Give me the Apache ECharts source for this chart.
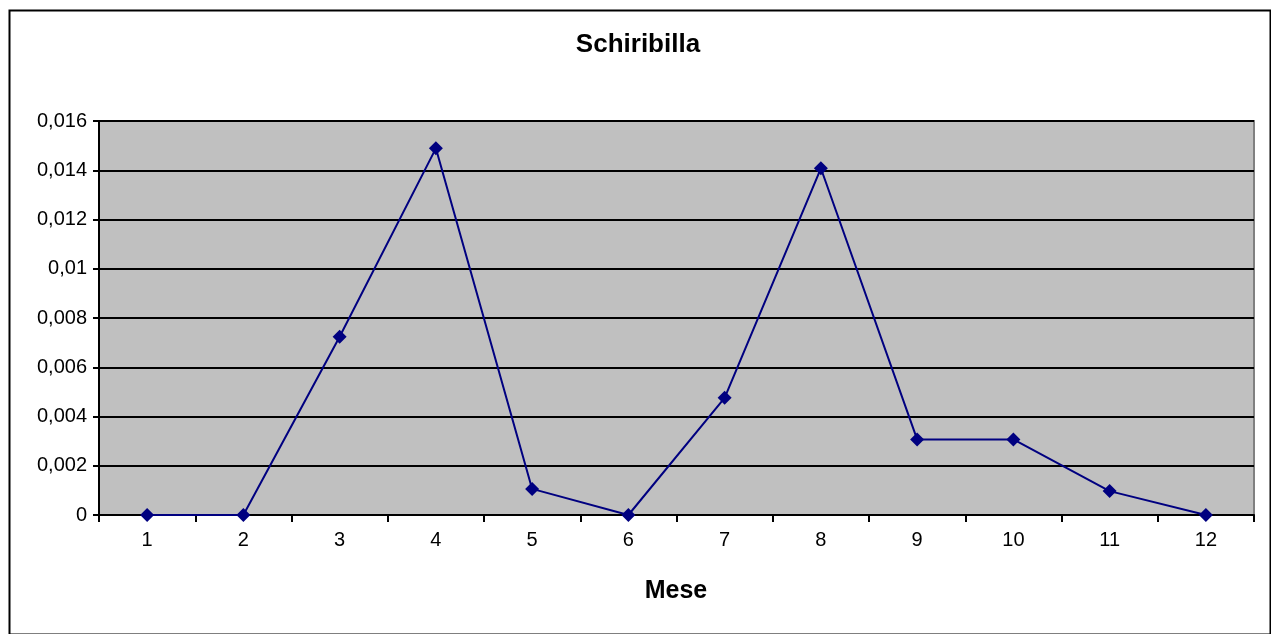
<!DOCTYPE html>
<html>
<head>
<meta charset="utf-8">
<script src="https://cdn.jsdelivr.net/npm/echarts@6/dist/echarts.min.js"></script>
<style>html,body{margin:0;padding:0;background:#fff;}#c{width:1271px;height:634px;}</style>
</head>
<body>
<div id="c"></div>
<script>
const months = ['1','2','3','4','5','6','7','8','9','10','11','12'];
const values = [0, 0, 0.00724, 0.01489, 0.00106, 0, 0.00476, 0.01408, 0.00307, 0.00307, 0.00097, 0];
const chartTitle = 'Schiribilla';
const xName = 'Mese';

const chart = echarts.init(document.getElementById('c'));
chart.setOption({
  animation: false,
  backgroundColor: '#fff',
  graphic: [{
    type: 'rect', left: 7, top: 8, z: 100,
    shape: { width: 1261, height: 624 },
    style: { fill: 'none', stroke: '#000', lineWidth: 2 }
  }, {
    type: 'text', z: 100,
    style: { text: chartTitle, x: 638, y: 45, textAlign: 'center', textVerticalAlign: 'middle',
      fontFamily: 'Liberation Sans, Arial', fontSize: 26, fontWeight: 'bold', fill: '#000' }
  }, {
    type: 'text', z: 100,
    style: { text: xName, x: 676, y: 591, textAlign: 'center', textVerticalAlign: 'middle',
      fontFamily: 'Liberation Sans, Arial', fontSize: 25, fontWeight: 'bold', fill: '#000' }
  }],
  grid: {
    left: 99, right: 17, top: 121, bottom: 119,
    show: true, backgroundColor: '#C0C0C0', borderColor: '#808080', borderWidth: 2
  },
  xAxis: {
    type: 'category', data: months, boundaryGap: true,
    axisLine: { lineStyle: { color: '#000', width: 2 } },
    axisTick: { show: true, length: 7, inside: false, lineStyle: { color: '#000', width: 2 } },
    axisLabel: { color: '#000', fontFamily: 'Liberation Sans, Arial', fontSize: 20, margin: 15 },
    splitLine: { show: false }
  },
  yAxis: {
    type: 'value', min: 0, max: 0.016, interval: 0.002,
    axisLine: { show: true, lineStyle: { color: '#000', width: 2 } },
    axisTick: { show: true, length: 6, lineStyle: { color: '#000', width: 2 } },
    axisLabel: {
      color: '#000', fontFamily: 'Liberation Sans, Arial', fontSize: 20, margin: 12,
      formatter: v => String(+v.toFixed(4)).replace('.', ',')
    },
    splitLine: { show: true, lineStyle: { color: '#000', width: 2 } }
  },
  series: [{
    type: 'line', data: values,
    symbol: 'diamond', symbolSize: 14,
    lineStyle: { color: '#000080', width: 2 },
    itemStyle: { color: '#000080' }
  }]
});
</script>
</body>
</html>
